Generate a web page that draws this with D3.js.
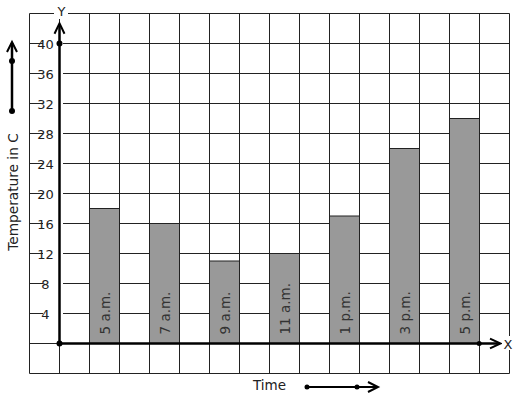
<!DOCTYPE html>
<html>
<head>
<meta charset="utf-8">
<script src="https://cdn.jsdelivr.net/npm/d3@7"></script>
<style>
  body { margin: 0; background: #fff; }
  svg { display: block; }
</style>
</head>
<body>
<div id="chart"></div>
<script>
const times = ["5 a.m.", "7 a.m.", "9 a.m.", "11 a.m.", "1 p.m.", "3 p.m.", "5 p.m."];
const temps = [18, 16, 11, 12, 17, 26, 30];
const yTicks = [4, 8, 12, 16, 20, 24, 28, 32, 36, 40];

const width = 517, height = 399;
const font = "'DejaVu Sans', sans-serif";

const svg = d3.select("#chart").append("svg")
  .attr("width", width)
  .attr("height", height);

// grid units: x columns -1..15, y values -4..44
const x = d3.scaleLinear().domain([-1, 15]).range([29.5, 509.5]);
const y = d3.scaleLinear().domain([-4, 44]).range([373.5, 13.5]);

const band = d3.scaleBand()
  .domain(times)
  .range([x(0), x(14)])
  .paddingInner(0.5)
  .paddingOuter(0.25)
  .align(1);

// grid
const grid = svg.append("g").attr("stroke", "#222").attr("stroke-width", 1);
grid.selectAll("line.v")
  .data(d3.range(-1, 16))
  .join("line")
  .attr("class", "v")
  .attr("x1", d => x(d)).attr("x2", d => x(d))
  .attr("y1", y(44)).attr("y2", y(-4));
grid.selectAll("line.h")
  .data(d3.range(-4, 45, 4))
  .join("line")
  .attr("class", "h")
  .attr("x1", x(-1)).attr("x2", x(15))
  .attr("y1", d => y(d)).attr("y2", d => y(d));

// bars
const bars = svg.append("g");
bars.selectAll("rect")
  .data(times)
  .join("rect")
  .attr("x", d => band(d))
  .attr("width", band.bandwidth())
  .attr("y", (d, i) => y(temps[i]))
  .attr("height", (d, i) => y(0) - y(temps[i]))
  .attr("fill", "#999")
  .attr("stroke", "#222")
  .attr("stroke-width", 1);

bars.selectAll("text")
  .data(times)
  .join("text")
  .attr("transform", d => `translate(${band(d) + band.bandwidth() / 2 + 5},${y(0) - 9}) rotate(-90)`)
  .attr("font-family", font)
  .attr("font-size", "13.5px")
  .attr("fill", "#333")
  .text(d => d);

// y tick labels with white background
const ticks = svg.append("g");
ticks.selectAll("rect")
  .data(yTicks)
  .join("rect")
  .attr("x", x(-0.55))
  .attr("y", d => y(d) - 6)
  .attr("width", 20)
  .attr("height", 12)
  .attr("fill", "#fff");
ticks.selectAll("text")
  .data(yTicks)
  .join("text")
  .attr("x", x(-0.47))
  .attr("y", d => y(d) + 5)
  .attr("text-anchor", "middle")
  .attr("font-family", font)
  .attr("font-size", "13px")
  .attr("fill", "#222")
  .text(d => d);

// axes
const axis = svg.append("g").attr("stroke", "#000").attr("fill", "none").attr("stroke-width", 2.5);
axis.append("line")
  .attr("x1", x(0)).attr("x2", x(0))
  .attr("y1", y(0)).attr("y2", y(42.5));
axis.append("path")
  .attr("stroke-width", 2)
  .attr("d", `M${x(0) - 5},${y(41.3)}L${x(0)},${y(42.7)}L${x(0) + 5},${y(41.3)}`);
axis.append("line")
  .attr("x1", x(0)).attr("x2", x(14.6))
  .attr("y1", y(0)).attr("y2", y(0));
axis.append("path")
  .attr("stroke-width", 2)
  .attr("d", `M${x(14.35)},${y(0.65)}L${x(14.7)},${y(0)}L${x(14.35)},${y(-0.65)}`);

svg.append("circle").attr("cx", x(0)).attr("cy", y(0)).attr("r", 3).attr("fill", "#000");
svg.append("circle").attr("cx", x(0)).attr("cy", y(40)).attr("r", 3).attr("fill", "#000");
svg.append("circle").attr("cx", x(13.99)).attr("cy", y(0)).attr("r", 2.5).attr("fill", "#000");

// axis letters
svg.append("rect").attr("x", 54).attr("y", 5).attr("width", 14).attr("height", 14).attr("fill", "#fff");
svg.append("text")
  .attr("x", x(0) + 2).attr("y", 16)
  .attr("text-anchor", "middle")
  .attr("font-family", font).attr("font-size", "13px").attr("fill", "#222")
  .text("Y");
svg.append("rect").attr("x", 502).attr("y", 336).attr("width", 13).attr("height", 14).attr("fill", "#fff");
svg.append("text")
  .attr("x", 508).attr("y", y(0) + 5)
  .attr("text-anchor", "middle")
  .attr("font-family", font).attr("font-size", "13px").attr("fill", "#222")
  .text("X");

// y title + arrow
svg.append("text")
  .attr("transform", `translate(18,${192}) rotate(-90)`)
  .attr("text-anchor", "middle")
  .attr("font-family", font).attr("font-size", "13.7px").attr("fill", "#222")
  .text("Temperature in C");

const side = svg.append("g").attr("stroke", "#000").attr("fill", "none").attr("stroke-width", 2.5);
side.append("line").attr("x1", 12).attr("x2", 12).attr("y1", 111).attr("y2", 43);
side.append("path").attr("stroke-width", 2).attr("d", "M7,52L12,42L17,52");
svg.append("circle").attr("cx", 12).attr("cy", 111).attr("r", 3).attr("fill", "#000");
svg.append("circle").attr("cx", 12).attr("cy", 61).attr("r", 3).attr("fill", "#000");

// x title + arrow
svg.append("text")
  .attr("x", 253).attr("y", 390)
  .attr("font-family", font).attr("font-size", "13.5px").attr("fill", "#222")
  .text("Time");

const bottom = svg.append("g").attr("stroke", "#000").attr("fill", "none").attr("stroke-width", 2);
bottom.append("line").attr("x1", 307).attr("x2", 377).attr("y1", 387).attr("y2", 387);
bottom.append("path").attr("d", "M368,382L378,387L368,392");
svg.append("circle").attr("cx", 307).attr("cy", 387).attr("r", 2.5).attr("fill", "#000");
svg.append("circle").attr("cx", 357).attr("cy", 387).attr("r", 2.5).attr("fill", "#000");
</script>
</body>
</html>
